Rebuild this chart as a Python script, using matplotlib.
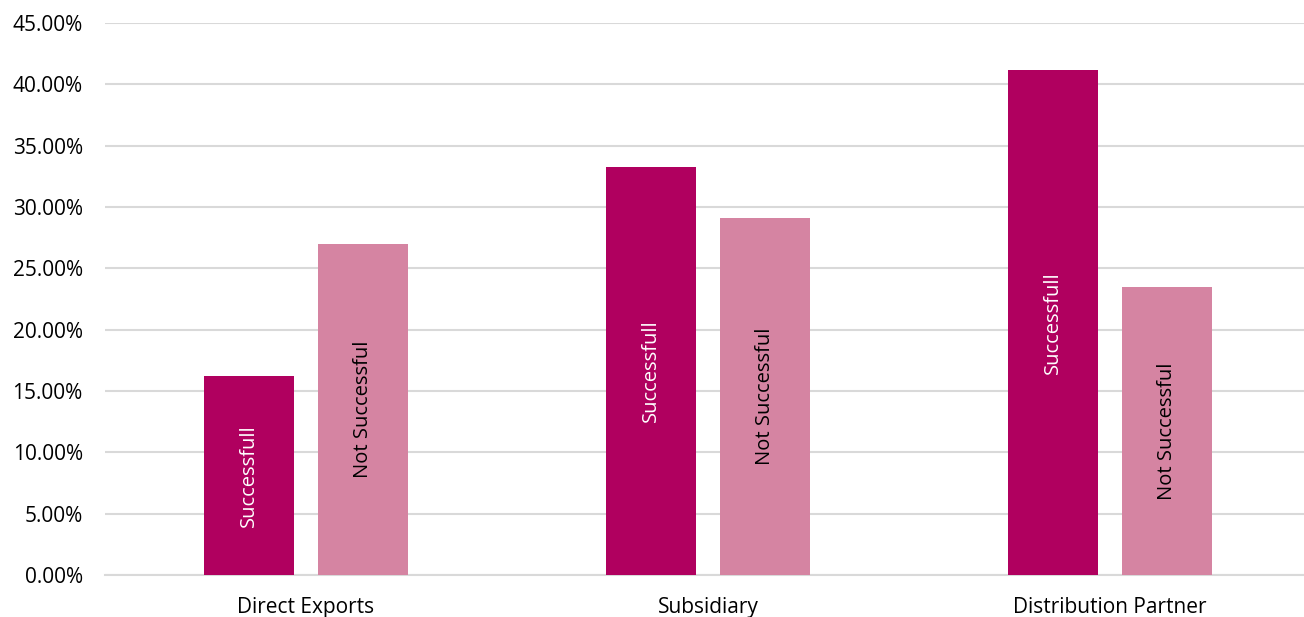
import matplotlib
matplotlib.use("Agg")
import matplotlib.pyplot as plt
import numpy as np
from matplotlib.ticker import PercentFormatter, MultipleLocator

categories = ["Direct Exports", "Subsidiary", "Distribution Partner"]
successful = [16.2, 33.3, 41.2]
not_successful = [27.0, 29.1, 23.5]
series_labels = ["Successfull", "Not Successful"]

plt.rcParams['font.family'] = ['Open Sans', 'DejaVu Sans']

fig = plt.figure(figsize=(13.04, 6.17), dpi=100)
ax = fig.add_axes([105/1304, 42/617, 1206/1304, 552/617])

x = np.arange(len(categories))
w = 0.224
off = 0.142
b1 = ax.bar(x - off, successful, w, color="#B0005F", zorder=3)
b2 = ax.bar(x + off, not_successful, w, color="#D584A2", zorder=3)

for bars, lab, col in [(b1, series_labels[0], "white"), (b2, series_labels[1], "black")]:
    for r in bars:
        ax.text(r.get_x() + r.get_width()/2, r.get_height()/2, lab, rotation=90,
                ha="center", va="center", color=col, fontsize=14.5, zorder=4)

ax.set_xlim(-0.5, 2.5)
ax.set_ylim(0, 45)
ax.yaxis.set_major_locator(MultipleLocator(5))
ax.yaxis.set_major_formatter(PercentFormatter(decimals=2))
ax.set_xticks(x)
ax.set_xticklabels(categories)
ax.tick_params(axis="both", length=0, colors="#000000")
ax.tick_params(axis="y", pad=16, labelsize=15)
ax.tick_params(axis="x", pad=16, labelsize=15)
ax.grid(axis="y", color="#D9D9D9", linewidth=1.5, zorder=0)
for s in ["top", "right", "left"]:
    ax.spines[s].set_visible(False)
ax.spines["bottom"].set_color("#D9D9D9")
ax.spines["bottom"].set_linewidth(1.5)

fig.savefig("out.png", dpi=100)
